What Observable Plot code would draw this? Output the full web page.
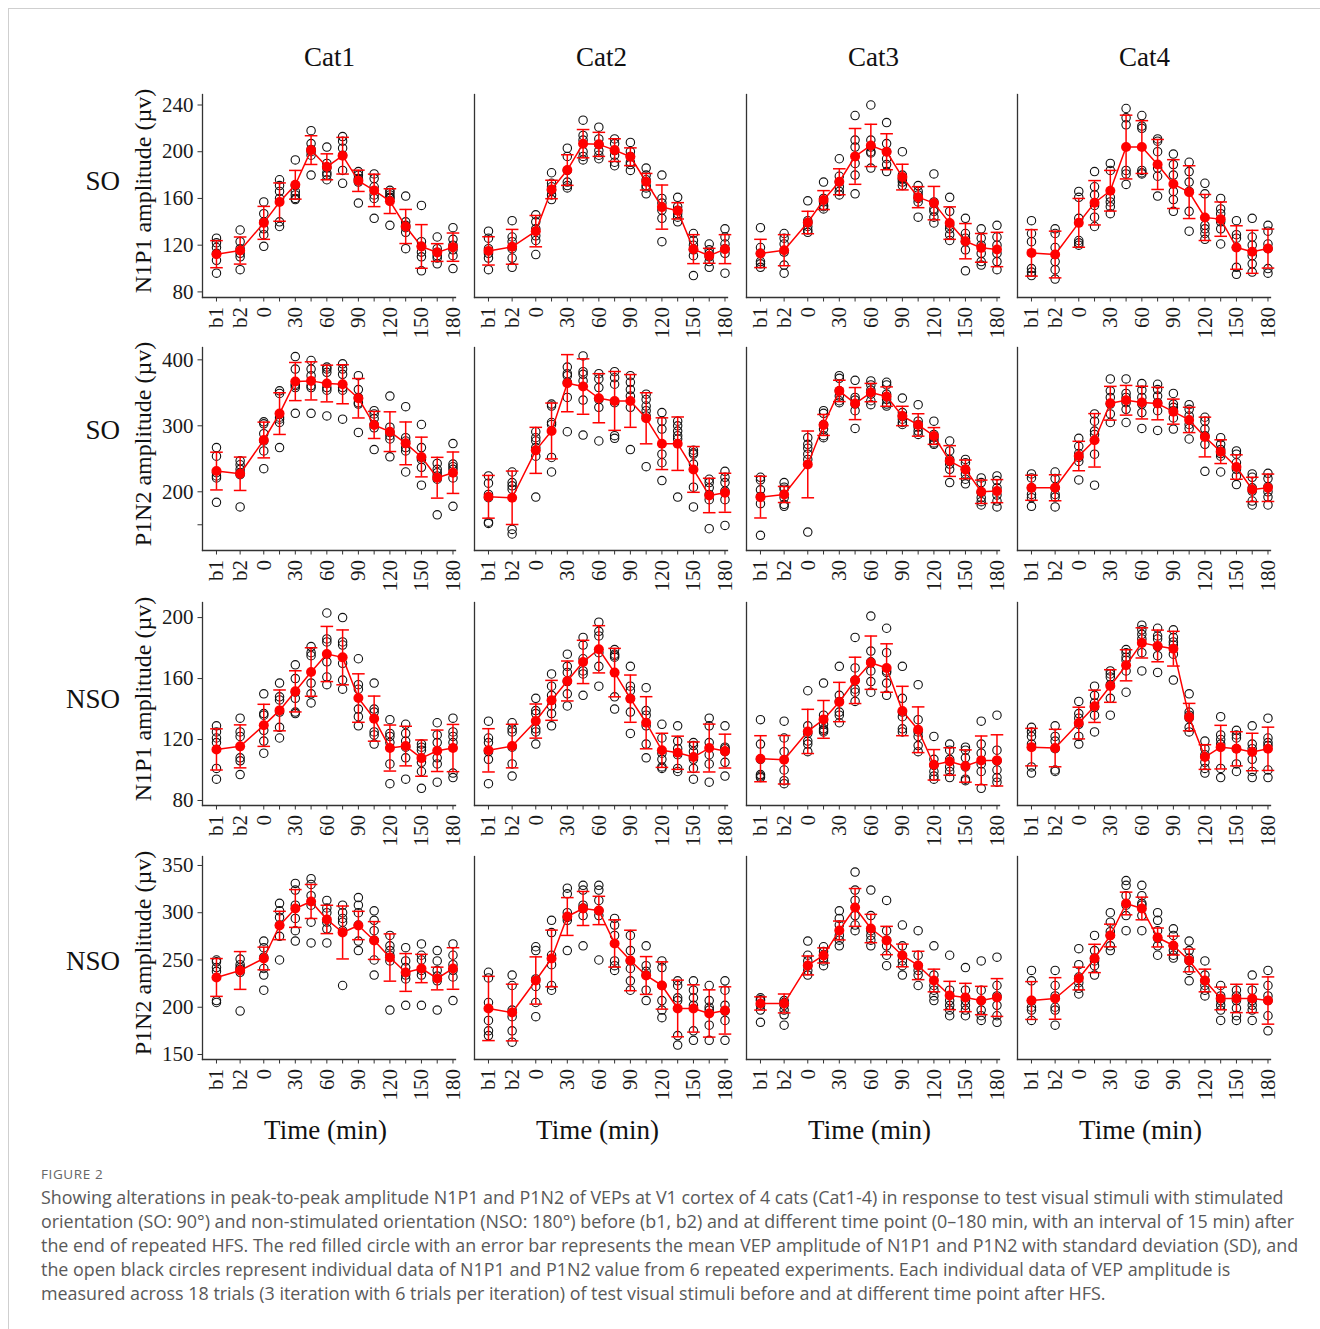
<!DOCTYPE html>
<html><head><meta charset="utf-8">
<script src="https://cdn.jsdelivr.net/npm/d3@7"></script>
<script src="https://cdn.jsdelivr.net/npm/@observablehq/plot@0.6"></script>
<style>
html,body{margin:0;padding:0;background:#fff;}
#page{position:relative;width:1320px;height:1329px;overflow:hidden;background:#fff;}
.frame{position:absolute;left:8px;top:8px;width:1320px;height:1329px;border-top:1px solid #cfcfcf;border-left:1px solid #cfcfcf;}
.serif{position:absolute;white-space:nowrap;font-family:"Liberation Serif","Times New Roman",serif;color:#111;line-height:1;}
.cap{position:absolute;white-space:nowrap;font-family:"Open Sans","Noto Sans",sans-serif;color:#595959;line-height:1;}
</style></head>
<body><div id="page"><div class="frame"></div></div>
<script>
// ---------------- data ----------------
const cats = ["Cat1", "Cat2", "Cat3", "Cat4"];
const rowLabels = ["SO", "SO", "NSO", "NSO"];
const yTitles = ["N1P1 amplitude (µv)", "P1N2 amplitude (µv)", "N1P1 amplitude (µv)", "P1N2 amplitude (µv)"];
const timeValues = [-45, -22.5, 0, 15, 30, 45, 60, 75, 90, 105, 120, 135, 150, 165, 180];
const timeTickLabels = ["b1", "b2", "0", "", "30", "", "60", "", "90", "", "120", "", "150", "", "180"];
const yTicks = [[80, 120, 160, 200, 240], [150, 200, 300, 400], [80, 120, 160, 200], [150, 200, 250, 300, 350]];
const yTickLabels = [["80", "120", "160", "200", "240"], ["", "200", "300", "400"], ["80", "120", "160", "200"], ["150", "200", "250", "300", "350"]];
const yDomains = [[75.2, 249], [111, 418.7], [76.7, 209.9], [144.7, 359.5]];
const xDomain = [-58.3, 182.4];

// SO N1P1
const soN1P1Mean = [
  [112.3, 115.4, 139.1, 156.9, 171.7, 201.4, 187.1, 196.6, 175.1, 166.9, 157.7, 136.0, 118.9, 113.7, 118.3],
  [115.1, 118.6, 132.0, 167.7, 184.3, 206.9, 206.3, 201.4, 195.7, 174.3, 152.6, 149.4, 116.6, 110.9, 116.6],
  [112.9, 115.7, 139.4, 158.6, 174.3, 196.0, 205.4, 200.0, 178.3, 161.1, 156.0, 138.9, 123.4, 117.7, 116.3],
  [113.4, 112.0, 139.1, 156.3, 166.6, 204.0, 204.0, 189.1, 172.3, 165.4, 143.7, 142.3, 118.0, 114.3, 117.1]
];
const soN1P1Sd = [
  [11.6, 11.6, 14.1, 16.4, 12.3, 12.3, 11.1, 15.7, 9.1, 13.9, 10.6, 14.6, 18.7, 7.6, 12.1],
  [12.1, 14.9, 13.4, 7.9, 13.1, 12.1, 10.3, 9.7, 7.6, 7.1, 18.9, 7.0, 12.4, 6.4, 12.4],
  [12.1, 13.3, 9.6, 8.1, 11.1, 23.9, 18.1, 15.4, 11.0, 9.0, 14.3, 13.9, 15.1, 12.3, 14.7],
  [19.9, 20.0, 20.9, 19.0, 17.4, 27.3, 22.6, 21.4, 20.9, 22.6, 19.7, 14.7, 18.6, 18.4, 16.7]
];
const soN1P1Ind = [
  [[126,122,118,113,107,96],[133,123,117,113,110,99],[157,147,140,134,129,119],[176,171,166,160,140,136],[193,171,166,163,160,159],[218,207,202,200,197,180],[204,190,186,182,180,176],[213,209,203,197,184,173],[183,180,177,176,174,156],[181,177,170,163,160,143],[167,165,163,161,160,137],[162,140,137,135,131,117],[154,123,119,114,110,98],[127,117,114,111,109,104],[135,125,120,116,111,100]],
  [[132,126,117,113,109,99],[141,127,123,117,109,101],[146,140,134,128,124,112],[182,173,170,167,163,159],[203,196,184,174,171,169],[227,214,210,200,196,193],[221,211,206,201,197,194],[211,207,201,197,191,188],[208,200,196,191,189,184],[186,180,176,171,169,164],[180,160,156,150,143,123],[161,153,150,147,144,140],[130,124,120,116,111,94],[121,116,113,110,106,101],[134,127,121,117,113,96]],
  [[135,118,113,106,104,101],[130,126,121,114,103,96],[158,141,139,136,133,131],[174,160,157,154,153,151],[194,179,174,170,166,163],[231,210,204,190,180,164],[240,210,204,200,199,186],[225,207,200,194,189,183],[200,180,177,176,174,171],[171,166,163,160,157,144],[181,157,151,149,144,139],[161,149,137,134,129,124],[143,130,126,123,116,98],[134,126,120,113,106,103],[137,127,120,113,106,99]],
  [[141,130,123,100,97,94],[134,130,118,106,99,91],[166,161,143,124,122,120],[183,170,163,154,144,136],[190,184,161,157,153,147],[237,229,223,184,181,172],[231,222,220,184,182,181],[211,209,200,186,179,162],[198,189,180,166,159,149],[191,183,174,166,149,132],[173,164,137,134,130,125],[160,151,147,140,134,121],[141,129,126,118,101,95],[143,127,120,111,104,97],[137,132,121,117,100,96]]
];

// SO P1N2
const soP1N2Mean = [
  [231.4, 227.3, 278.5, 318.5, 367.1, 368.1, 364.1, 363.0, 341.8, 301.3, 291.1, 273.4, 252.7, 221.3, 228.9],
  [192.4, 190.9, 262.8, 292.2, 364.6, 359.5, 341.8, 337.7, 337.7, 311.4, 272.9, 272.9, 233.9, 194.4, 198.5],
  [191.9, 195.9, 241.5, 301.3, 352.9, 333.7, 350.4, 344.3, 314.9, 301.3, 284.6, 246.6, 233.9, 200.0, 201.0],
  [206.1, 206.1, 254.2, 278.0, 334.2, 338.7, 335.2, 333.7, 321.5, 308.9, 283.0, 260.8, 237.5, 203.5, 206.1]
];
const soP1N2Sd = [
  [28.6, 25.3, 27.1, 31.6, 28.9, 28.9, 27.8, 29.6, 29.9, 20.5, 30.1, 32.4, 30.1, 30.9, 31.4],
  [32.4, 40.5, 34.9, 42.3, 43.3, 42.0, 37.2, 44.6, 40.0, 38.7, 39.2, 40.5, 34.7, 26.1, 29.6],
  [31.6, 12.2, 50.6, 15.9, 16.2, 24.3, 13.9, 14.7, 14.7, 17.0, 12.7, 23.3, 14.2, 17.7, 17.5],
  [19.0, 19.7, 22.3, 40.5, 25.6, 22.5, 24.8, 24.6, 19.0, 19.2, 30.1, 18.0, 18.5, 18.5, 20.8]
];
const soP1N2Ind = [
  [[267,254,229,224,221,184],[247,241,234,229,226,177],[306,303,288,277,262,235],[353,349,313,310,305,267],[405,386,363,361,358,319],[399,386,376,361,358,319],[389,386,381,358,354,315],[394,386,378,358,354,310],[376,355,343,335,333,290],[323,318,311,302,297,264],[345,298,290,285,280,253],[329,282,277,267,262,230],[302,267,252,249,237,210],[243,234,229,224,219,165],[273,242,238,234,221,178]],
  [[224,213,196,191,154,152],[230,214,209,204,143,136],[291,282,277,267,254,192],[333,330,305,302,252,230],[389,379,376,366,343,291],[406,382,378,368,339,286],[379,371,358,340,328,277],[382,373,363,335,285,281],[376,366,355,345,328,264],[348,340,330,323,315,238],[320,307,295,257,244,217],[307,300,292,285,280,192],[263,259,257,242,207,177],[219,214,206,196,188,144],[231,222,214,201,188,149]],
  [[222,218,203,193,182,134],[214,207,204,191,181,178],[282,272,266,257,249,139],[323,319,302,295,285,282],[376,372,353,345,338,335],[369,343,339,333,323,296],[368,362,354,348,338,332],[366,362,348,340,333,330],[342,320,315,310,305,302],[332,307,302,298,292,287],[307,287,282,278,274,272],[277,262,249,242,234,214],[249,244,234,227,219,212],[221,214,199,191,185,180],[224,217,206,195,186,177]],
  [[227,221,206,196,191,178],[230,220,206,196,192,177],[281,269,258,252,246,218],[318,307,292,287,257,210],[371,353,343,333,318,305],[371,349,343,335,325,305],[364,354,343,333,320,296],[363,355,345,335,323,293],[349,333,328,323,312,295],[332,325,315,302,296,280],[313,307,295,285,272,231],[282,272,264,258,254,230],[262,257,244,234,224,211],[227,222,206,201,186,180],[228,220,208,200,192,180]]
];

// NSO N1P1
const nsoN1P1Mean = [
  [113.5, 115.5, 129.3, 139.1, 151.6, 164.3, 176.1, 173.9, 147.2, 133.7, 114.4, 115.7, 107.8, 112.6, 114.4],
  [112.9, 115.7, 132.1, 145.7, 158.4, 170.9, 179.2, 163.9, 146.8, 131.0, 112.9, 111.3, 108.5, 114.4, 112.4],
  [107.4, 106.7, 125.3, 133.2, 144.6, 158.8, 170.4, 166.9, 138.7, 126.4, 103.4, 105.6, 102.6, 106.3, 106.3],
  [115.0, 114.4, 130.8, 141.8, 155.1, 168.7, 183.4, 181.4, 179.6, 134.7, 108.5, 115.0, 113.9, 111.8, 113.9]
];
const nsoN1P1Sd = [
  [13.5, 14.1, 13.8, 13.4, 13.5, 15.9, 18.1, 18.0, 15.9, 14.8, 15.1, 13.0, 11.9, 13.6, 15.5],
  [14.2, 14.3, 11.2, 13.1, 13.1, 14.2, 15.5, 15.9, 15.5, 17.1, 11.2, 10.9, 9.9, 15.7, 11.1],
  [15.1, 15.9, 14.5, 12.4, 12.9, 15.2, 17.5, 15.9, 16.2, 15.0, 10.0, 9.0, 10.6, 16.0, 16.8],
  [12.3, 12.3, 10.4, 10.6, 10.7, 10.2, 9.9, 10.4, 11.4, 9.0, 8.1, 14.3, 11.2, 12.3, 14.2]
];
const nsoN1P1Ind = [
  [[129,125,121,118,101,94],[134,125,122,108,106,97],[150,137,136,126,119,111],[157,148,146,138,128,121],[169,160,151,147,138,137],[181,177,175,157,150,144],[203,186,184,171,161,156],[200,184,182,170,159,153],[173,156,153,140,135,129],[157,140,138,125,123,117],[133,124,122,118,104,91],[130,124,119,115,108,94],[117,115,113,105,99,88],[131,123,118,108,104,92],[134,125,122,118,98,95]],
  [[132,121,118,112,107,91],[131,127,125,115,104,96],[147,139,137,127,125,117],[163,155,149,142,137,129],[176,168,164,158,150,142],[187,182,173,165,163,149],[197,191,188,177,168,155],[179,176,175,174,148,140],[168,155,152,147,138,124],[154,139,136,129,117,108],[130,121,111,107,102,101],[129,119,114,110,101,99],[118,116,112,107,101,94],[134,129,118,110,104,92],[129,115,114,112,105,96]],
  [[133,117,107,97,96,95],[132,121,112,100,93,91],[152,129,124,119,117,112],[157,136,130,127,126,125],[168,149,145,138,136,131],[187,167,159,153,151,145],[201,178,171,165,158,151],[193,177,165,164,157,149],[168,147,138,135,127,125],[156,133,125,122,116,112],[122,107,103,99,96,94],[117,113,107,102,99,95],[115,113,108,102,94,93],[132,117,111,104,99,88],[136,113,106,100,95,92]],
  [[128,125,122,117,102,98],[129,122,119,114,100,99],[145,137,134,130,122,117],[155,149,144,141,136,125],[165,163,161,156,147,136],[179,177,174,172,165,151],[195,192,189,186,177,165],[193,188,186,181,175,164],[192,187,184,182,176,159],[150,138,136,134,128,125],[119,114,110,105,101,98],[135,123,120,117,101,95],[126,123,121,114,104,99],[129,117,114,107,99,95],[134,121,118,116,100,95]]
];

// NSO P1N2
const nsoP1N2Mean = [
  [231.5, 238.9, 251.6, 286.5, 304.5, 311.9, 292.9, 279.1, 286.5, 270.6, 252.6, 236.8, 241.0, 230.4, 241.0],
  [198.7, 194.4, 228.3, 251.6, 296.0, 304.5, 302.4, 267.5, 249.5, 233.6, 223.0, 198.7, 198.7, 193.4, 196.6],
  [204.0, 204.0, 244.2, 254.8, 281.2, 305.6, 283.3, 270.6, 254.8, 244.2, 228.3, 212.4, 210.3, 207.1, 210.3],
  [207.1, 209.3, 230.4, 251.6, 275.9, 309.8, 304.5, 273.8, 265.3, 249.5, 228.3, 209.3, 209.3, 209.3, 207.1]
];
const nsoP1N2Sd = [
  [20, 20, 12, 15, 20, 18, 15, 28, 15, 20, 25, 20, 15, 12, 22],
  [34, 30, 25, 30, 20, 18, 15, 25, 32, 20, 25, 30, 25, 25, 25],
  [7, 10, 10, 8, 10, 20, 15, 15, 12, 15, 12, 15, 15, 15, 20],
  [20, 22, 12, 15, 12, 12, 12, 10, 10, 12, 12, 12, 15, 15, 25]
];
const nsoP1N2Ind = [
  [[250,248,242,238,207,205],[251,245,242,240,237,196],[270,263,253,241,234,218],[310,302,295,287,275,250],[331,324,308,294,281,270],[336,330,318,308,290,268],[313,305,300,290,283,268],[308,300,294,290,281,223],[316,308,300,287,270,260],[302,292,281,271,250,234],[276,265,260,255,249,197],[263,249,242,234,230,202],[267,255,250,239,234,202],[260,249,239,233,228,197],[267,255,245,239,232,207]],
  [[237,231,205,186,175,170],[234,223,197,190,175,163],[264,260,230,222,205,190],[292,279,255,245,223,218],[326,320,300,295,292,260],[329,324,308,305,297,265],[329,324,313,302,297,250],[294,287,276,249,244,239],[276,260,249,241,228,218],[265,244,238,234,218,207],[249,242,223,207,197,189],[228,223,210,207,170,160],[228,218,210,202,175,165],[223,207,200,197,181,165],[228,218,202,196,186,165]],
  [[210,208,207,202,197,184],[207,205,202,197,192,181],[270,255,249,244,239,234],[264,259,255,252,249,244],[302,294,287,276,271,265],[343,324,313,297,287,281],[324,297,281,276,271,265],[313,281,271,265,255,244],[287,265,255,249,244,234],[281,255,244,239,234,223],[265,234,223,218,212,207],[255,218,207,202,197,191],[242,218,207,202,197,191],[249,218,207,197,191,186],[253,223,212,202,191,184]],
  [[239,228,207,200,197,186],[239,223,212,200,197,181],[262,245,232,226,220,214],[276,260,252,249,244,234],[300,290,280,276,265,260],[334,329,318,308,297,281],[329,318,310,308,297,281],[300,292,281,273,265,255],[283,276,265,260,255,252],[270,260,252,249,239,228],[249,234,228,223,218,212],[223,212,207,202,197,186],[218,212,207,199,191,186],[234,218,207,202,197,186],[239,223,212,207,191,175]]
];

const captionLines = [
  "Showing alterations in peak-to-peak amplitude N1P1 and P1N2 of VEPs at V1 cortex of 4 cats (Cat1-4) in response to test visual stimuli with stimulated",
  "orientation (SO: 90°) and non-stimulated orientation (NSO: 180°) before (b1, b2) and at different time point (0–180 min, with an interval of 15 min) after",
  "the end of repeated HFS. The red filled circle with an error bar represents the mean VEP amplitude of N1P1 and P1N2 with standard deviation (SD), and",
  "the open black circles represent individual data of N1P1 and P1N2 value from 6 repeated experiments. Each individual data of VEP amplitude is",
  "measured across 18 trials (3 iteration with 6 trials per iteration) of test visual stimuli before and at different time point after HFS."
];

// ---------------- layout ----------------
const rowsData = [
  [soN1P1Mean, soN1P1Sd, soN1P1Ind],
  [soP1N2Mean, soP1N2Sd, soP1N2Ind],
  [nsoN1P1Mean, nsoN1P1Sd, nsoN1P1Ind],
  [nsoP1N2Mean, nsoP1N2Sd, nsoP1N2Ind]
];
const colAxisX = [202, 474, 746, 1017];
const rowTop = [94, 347, 602, 856];
const plotW = 253, plotH = 203;
const rowLabelY = [181, 430, 699, 961];
const red = "#ff0000";
const ink = "#1a1a1a";
const page = document.getElementById("page");

const capSymbol = {
  draw(ctx, size) {
    const r = Math.sqrt(size / Math.PI);
    ctx.moveTo(-r, 0);
    ctx.lineTo(r, 0);
  }
};

function addText(cls, txt, x, y, size, opts = {}) {
  const d = document.createElement("div");
  d.className = cls;
  d.textContent = txt;
  d.style.fontSize = size + "px";
  d.style.left = x + "px";
  d.style.top = y + "px";
  d.style.transform = opts.transform || "translate(-50%,-50%)";
  if (opts.color) d.style.color = opts.color;
  if (opts.letterSpacing) d.style.letterSpacing = opts.letterSpacing;
  page.appendChild(d);
  return d;
}

function panel(r, c) {
  const [means, sds, inds] = rowsData[r];
  const summary = timeValues.map((t, i) => ({t, mean: means[c][i], sd: sds[c][i]}));
  const indiv = [];
  timeValues.forEach((t, i) => inds[c][i].forEach(v => indiv.push({t, v})));
  const ml = c === 0 ? 70 : 12, mt = 12, mr = 14, mb = 60;
  const labelMap = new Map(timeValues.map((t, i) => [t, timeTickLabels[i]]));
  const yLabelMap = new Map(yTicks[r].map((t, i) => [t, yTickLabels[r][i]]));
  const marks = [
    Plot.frame({anchor: "left", stroke: "#333", strokeWidth: 1.3}),
    Plot.frame({anchor: "bottom", stroke: "#333", strokeWidth: 1.3}),
    Plot.axisX({ticks: timeValues, tickFormat: d => labelMap.get(d), tickRotate: -90,
      tickSize: 4.5, tickPadding: 5, fontSize: 21, label: null, stroke: "#333"}),
    Plot.dot(indiv, {x: "t", y: "v", r: 4.2, stroke: "#111", strokeWidth: 1.1, fill: "none"}),
    Plot.ruleX(summary, {x: "t", y1: d => d.mean - d.sd, y2: d => d.mean + d.sd, stroke: red, strokeWidth: 1.5}),
    Plot.dot(summary, {x: "t", y: d => d.mean + d.sd, symbol: capSymbol, r: 6.3, stroke: red, strokeWidth: 1.5, fill: "none"}),
    Plot.dot(summary, {x: "t", y: d => d.mean - d.sd, symbol: capSymbol, r: 6.3, stroke: red, strokeWidth: 1.5, fill: "none"}),
    Plot.line(summary, {x: "t", y: "mean", stroke: red, strokeWidth: 1.5}),
    Plot.dot(summary, {x: "t", y: "mean", r: 5, fill: red, stroke: "none"})
  ];
  if (c === 0) {
    marks.splice(3, 0, Plot.axisY({ticks: yTicks[r], tickFormat: d => yLabelMap.get(d),
      tickSize: 4.5, tickPadding: 4.5, fontSize: 21, label: null, stroke: "#333"}));
  }
  const svg = Plot.plot({
    width: ml + plotW + mr,
    height: mt + plotH + mb,
    marginLeft: ml, marginRight: mr, marginTop: mt, marginBottom: mb,
    x: {type: "linear", domain: xDomain},
    y: {type: "linear", domain: yDomains[r], axis: c === 0 ? undefined : null},
    style: {fontFamily: "'Liberation Serif','Times New Roman',serif", fontSize: "21px",
      color: ink, background: "transparent", overflow: "visible"},
    marks
  });
  svg.style.position = "absolute";
  svg.style.left = (colAxisX[c] - ml) + "px";
  svg.style.top = (rowTop[r] - mt) + "px";
  svg.style.maxWidth = "none";
  page.appendChild(svg);
}

for (let r = 0; r < 4; r++) for (let c = 0; c < 4; c++) panel(r, c);

// column titles and x titles
cats.forEach((cat, c) => {
  const cx = colAxisX[c] + plotW / 2;
  addText("serif", cat, cx + 1, 57, 27);
  addText("serif", "Time (min)", cx - 3, 1130, 27);
});
// row labels and y titles
rowLabels.forEach((lab, r) => {
  addText("serif", lab, 120, rowLabelY[r], 27, {transform: "translate(-100%,-50%)"});
  addText("serif", yTitles[r], 143, rowTop[r] + plotH / 2 - 5, 24,
    {transform: "translate(-50%,-50%) rotate(-90deg)"});
});
// caption
addText("cap", "FIGURE 2", 41, 1175, 13.5, {transform: "translate(0,-50%)", color: "#666", letterSpacing: "0.6px"});
captionLines.forEach((line, i) => {
  addText("cap", line, 41, 1198 + i * 24, 17.9, {transform: "translate(0,-50%)"});
});
</script>
</body></html>
